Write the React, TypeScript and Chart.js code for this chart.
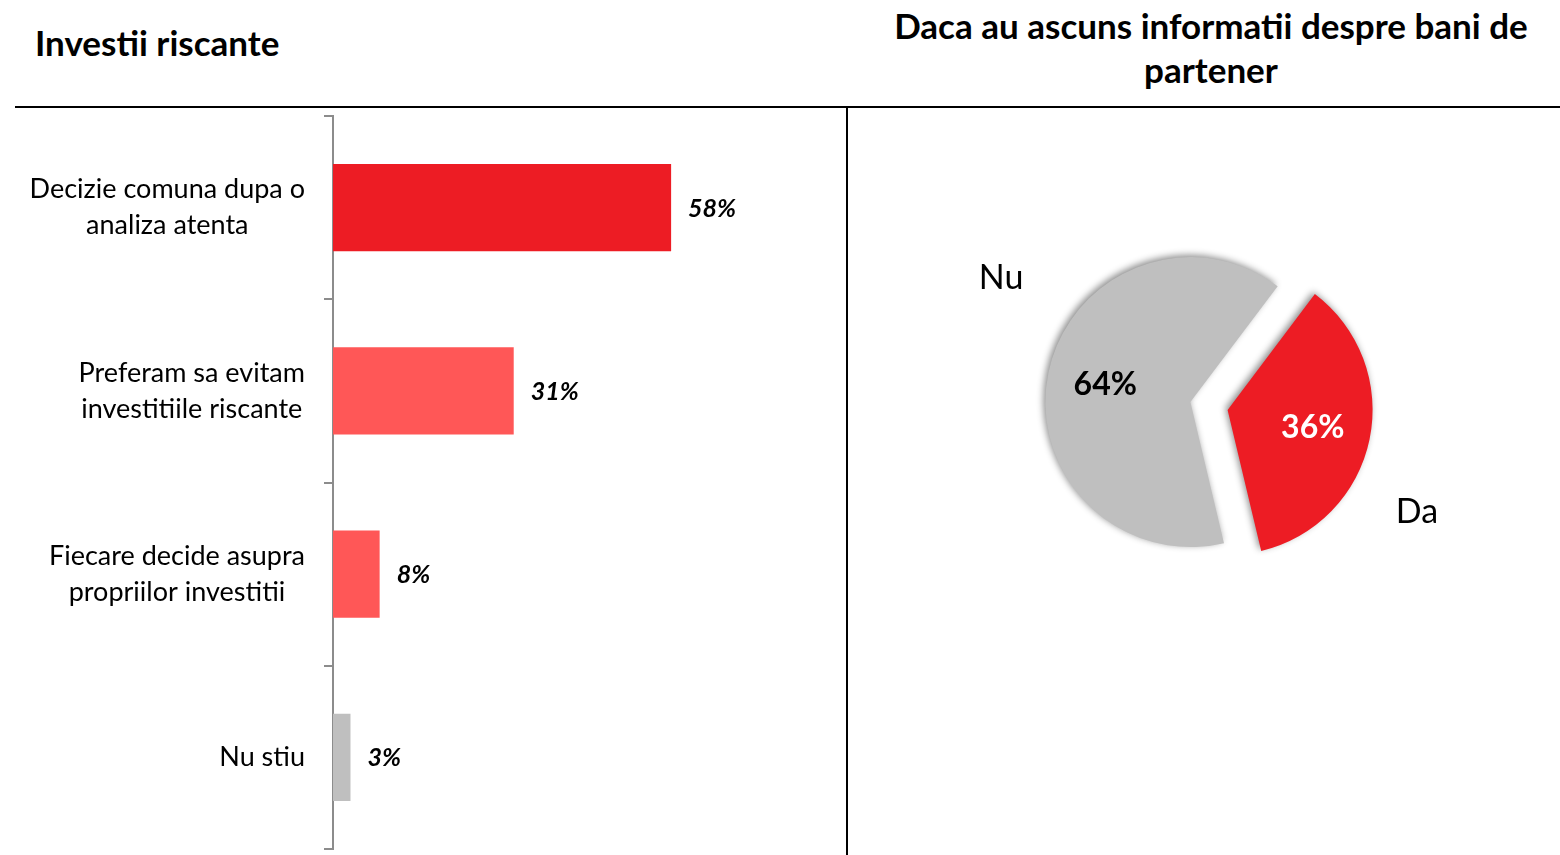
import React, { useEffect, useRef } from "react";
import { Chart, registerables } from "chart.js";
Chart.register(...registerables);

const leftTitle = "Investii riscante";
const rightTitle = ["Daca au ascuns informatii despre bani de", "partener"];

const barCategories = [
  ["Decizie comuna dupa o", "analiza atenta"],
  ["Preferam sa evitam", "investitiile riscante"],
  ["Fiecare decide asupra", "propriilor investitii"],
  ["Nu stiu"],
];
const barValues = [58, 31, 8, 3];
const barColors = ["#ED1C24", "#FF5757", "#FF5757", "#BFBFBF"];

const pieLabels = ["Da", "Nu"];
const pieValues = [36, 64];
const pieColors = ["#ED1C24", "#BFBFBF"];
const pieValueColors = ["#FFFFFF", "#000000"];

const FONT = "Lato, 'Open Sans', sans-serif";

const barLabelsPlugin = {
  id: "barLabels",
  afterDatasetsDraw(chart: any) {
    const ctx = chart.ctx;
    const meta = chart.getDatasetMeta(0);
    const yScale = chart.scales.y;
    ctx.save();
    ctx.fillStyle = "#000";
    ctx.textBaseline = "middle";
    ctx.textAlign = "left";
    ctx.font = `italic bold 25px ${FONT}`;
    meta.data.forEach((bar: any, i: number) => {
      ctx.fillText(barValues[i] + "%", bar.x + 17, bar.y + 1);
    });
    ctx.font = `27px ${FONT}`;
    ctx.textAlign = "center";
    barCategories.forEach((lines, i) => {
      const yc = yScale.getPixelForValue(i);
      const w = Math.max(...lines.map((l) => ctx.measureText(l).width));
      const cx = chart.chartArea.left - 28 - w / 2;
      const lh = 36;
      lines.forEach((l, j) => ctx.fillText(l, cx, yc + (j - (lines.length - 1) / 2) * lh));
    });
    ctx.restore();
  },
};

const EXPLODE = 19;

const piePlugin = {
  id: "pieExtras",
  beforeDatasetDraw(chart: any, args: any) {
    const ctx = chart.ctx;
    args.meta.data.forEach((arc: any) => {
      const mid = (arc.startAngle + arc.endAngle) / 2;
      ctx.save();
      ctx.translate(Math.cos(mid) * EXPLODE, Math.sin(mid) * EXPLODE);
      ctx.shadowColor = "rgba(0,0,0,0.45)";
      ctx.shadowBlur = 7;
      ctx.shadowOffsetX = -2;
      ctx.shadowOffsetY = -2;
      arc.draw(ctx);
      ctx.restore();
    });
    return false;
  },
  afterDatasetsDraw(chart: any) {
    const ctx = chart.ctx;
    const meta = chart.getDatasetMeta(0);
    ctx.save();
    ctx.textAlign = "center";
    ctx.textBaseline = "middle";
    meta.data.forEach((arc: any, i: number) => {
      const mid = (arc.startAngle + arc.endAngle) / 2;
      const vx = arc.x + Math.cos(mid) * EXPLODE;
      const vy = arc.y + Math.sin(mid) * EXPLODE;
      const r = arc.outerRadius;
      ctx.font = `bold 32px ${FONT}`;
      ctx.fillStyle = pieValueColors[i];
      ctx.fillText(pieValues[i] + "%", vx + Math.cos(mid) * r * 0.6, vy + Math.sin(mid) * r * 0.6);
      const la = mid + (19 * Math.PI) / 180;
      ctx.font = `34px ${FONT}`;
      ctx.fillStyle = "#000";
      ctx.fillText(pieLabels[i], vx + Math.cos(la) * r * 1.52, vy + Math.sin(la) * r * 1.52 - 11);
    });
    ctx.restore();
  },
};

export default function App() {
  const barRef = useRef<HTMLCanvasElement>(null);
  const pieRef = useRef<HTMLCanvasElement>(null);

  useEffect(() => {
    document.body.style.margin = "0";
    const bar = new Chart(barRef.current!, {
      type: "bar",
      data: {
        labels: barCategories.map((l) => l.join(" ")),
        datasets: [
          {
            data: barValues,
            backgroundColor: barColors,
            borderWidth: 0,
            barPercentage: 0.475,
            categoryPercentage: 1,
          },
        ],
      },
      options: {
        indexAxis: "y",
        responsive: false,
        animation: false,
        layout: { padding: { top: 8, bottom: 6, left: 0, right: 0 } },
        plugins: { legend: { display: false }, tooltip: { enabled: false } },
        scales: {
          x: { display: false, min: 0, max: 88 },
          y: {
            ticks: { display: false },
            grid: {
              drawOnChartArea: false,
              drawTicks: true,
              tickLength: 9,
              color: "#8C8C8C",
              lineWidth: 2,
              offset: true,
            },
            border: { display: true, color: "#8C8C8C", width: 2 },
            afterFit: (scale: any) => {
              scale.width = 333;
            },
          },
        },
      },
      plugins: [barLabelsPlugin],
    } as any);

    const pie = new Chart(pieRef.current!, {
      type: "pie",
      data: {
        labels: pieLabels,
        datasets: [
          {
            data: pieValues,
            backgroundColor: pieColors,
            borderWidth: 0,
          },
        ],
      },
      options: {
        responsive: false,
        animation: false,
        rotation: 37,
        radius: 145,
        layout: { padding: { top: 0, bottom: 151, left: 10, right: 0 } },
        plugins: { legend: { display: false }, tooltip: { enabled: false } },
      },
      plugins: [piePlugin],
    } as any);

    return () => {
      bar.destroy();
      pie.destroy();
    };
  }, []);

  return (
    <div style={{ position: "relative", width: 1560, height: 855, overflow: "hidden", background: "#fff", fontFamily: FONT }}>
      <div
        style={{
          position: "absolute",
          left: 35,
          top: 22,
          lineHeight: "40px",
          fontSize: 35,
          fontWeight: 700,
          color: "#000",
          whiteSpace: "nowrap",
        }}
      >
        {leftTitle}
      </div>
      <div
        style={{
          position: "absolute",
          left: 862,
          width: 698,
          top: 3,
          lineHeight: "44px",
          fontSize: 35,
          fontWeight: 700,
          color: "#000",
          textAlign: "center",
          whiteSpace: "nowrap",
        }}
      >
        {rightTitle.map((t, i) => (
          <div key={i}>{t}</div>
        ))}
      </div>
      <div style={{ position: "absolute", left: 15, top: 106, width: 1545, height: 2, background: "#000" }} />
      <div style={{ position: "absolute", left: 846, top: 107, width: 2, height: 748, background: "#000" }} />
      <canvas
        ref={barRef}
        width={846}
        height={747}
        style={{ position: "absolute", left: 0, top: 108, display: "block" }}
      />
      <canvas
        ref={pieRef}
        width={712}
        height={747}
        style={{ position: "absolute", left: 848, top: 108, display: "block" }}
      />
    </div>
  );
}
